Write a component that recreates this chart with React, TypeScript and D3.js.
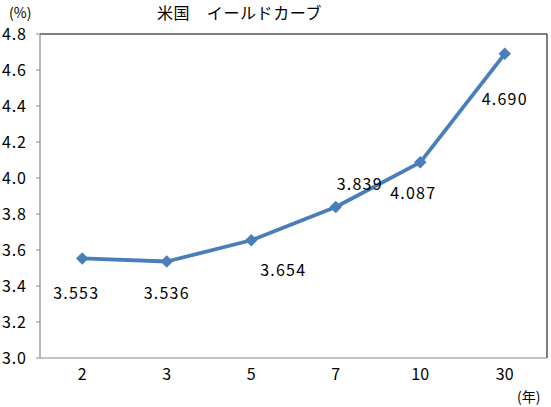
import React from "react";
import * as d3 from "d3";

const maturities = ["2", "3", "5", "7", "10", "30"];
const yields = [3.553, 3.536, 3.654, 3.839, 4.087, 4.69];
const yTicks = [3.0, 3.2, 3.4, 3.6, 3.8, 4.0, 4.2, 4.4, 4.6, 4.8];
const valueLabels = ["3.553", "3.536", "3.654", "3.839", "4.087", "4.690"];

// label placement relative to each point (dx, dy)
const labelOffsets = [
  [-6, 35],
  [0, 32],
  [32, 30],
  [24, -23],
  [-7, 31],
  [0, 45],
];

const W = 551;
const H = 407;
const margin = { top: 34, right: 4, bottom: 49, left: 40 };
const FONT = "'Noto Sans CJK JP', sans-serif";
const BLUE = "#4a7ebb";

function App() {
  const x = d3
    .scaleBand()
    .domain(maturities)
    .range([margin.left, W - margin.right])
    .padding(0);

  const y = d3
    .scaleLinear()
    .domain([3.0, 4.8])
    .range([H - margin.bottom, margin.top]);

  const cx = (i: number) => (x(maturities[i]) as number) + x.bandwidth() / 2;

  const line = d3
    .line<number>()
    .x((d, i) => cx(i))
    .y((d) => y(d));

  // square rotated 45deg, like Excel's diamond marker
  const diamond = d3.symbol().type(d3.symbolSquare).size(78)();

  const left = margin.left;
  const right = W - margin.right;
  const top = margin.top;
  const bottom = H - margin.bottom;

  return (
    <svg
      width={W}
      height={H}
      style={{ position: "absolute", left: 0, top: 0, background: "#fff" }}
      fontFamily={FONT}
    >
      <text x={9} y={18} fontSize={14} fill="#000">
        (%)
      </text>
      <text x={157} y={19} fontSize={16} fill="#000" letterSpacing={0.6}>
        米国　イールドカーブ
      </text>

      {/* frame */}
      <line x1={left} x2={right} y1={top} y2={top} stroke="#000" strokeWidth={1} />
      <line x1={right} x2={right} y1={top} y2={bottom} stroke="#000" strokeWidth={1} />
      <line x1={left} x2={left} y1={top} y2={bottom} stroke="#888" strokeWidth={1.2} />
      <line x1={left} x2={right} y1={bottom} y2={bottom} stroke="#888" strokeWidth={1.2} />

      {yTicks.map((t) => (
        <g key={t}>
          <line x1={left - 4} x2={left} y1={y(t)} y2={y(t)} stroke="#888" />
          <text
            x={2}
            y={y(t)}
            dy="0.36em"
            fontSize={16}
            fill="#000"
            letterSpacing={0.8}
          >
            {t.toFixed(1)}
          </text>
        </g>
      ))}

      {maturities.map((m, i) => (
        <text
          key={m}
          x={cx(i)}
          y={bottom + 22}
          textAnchor="middle"
          fontSize={16}
          fill="#000"
        >
          {m}
        </text>
      ))}

      <text x={517} y={402} fontSize={14} fill="#000">
        (年)
      </text>

      <path
        d={line(yields) || ""}
        fill="none"
        stroke={BLUE}
        strokeWidth={3.8}
        strokeLinejoin="round"
      />
      {yields.map((v, i) => (
        <path
          key={i}
          d={diamond || ""}
          transform={`translate(${cx(i)},${y(v)}) rotate(45)`}
          fill={BLUE}
        />
      ))}

      {yields.map((v, i) => (
        <text
          key={"l" + i}
          x={cx(i) + labelOffsets[i][0]}
          y={y(v) + labelOffsets[i][1]}
          dy="0.36em"
          textAnchor="middle"
          fontSize={16}
          fill="#000"
          letterSpacing={1.2}
        >
          {valueLabels[i]}
        </text>
      ))}
    </svg>
  );
}

export default App;
